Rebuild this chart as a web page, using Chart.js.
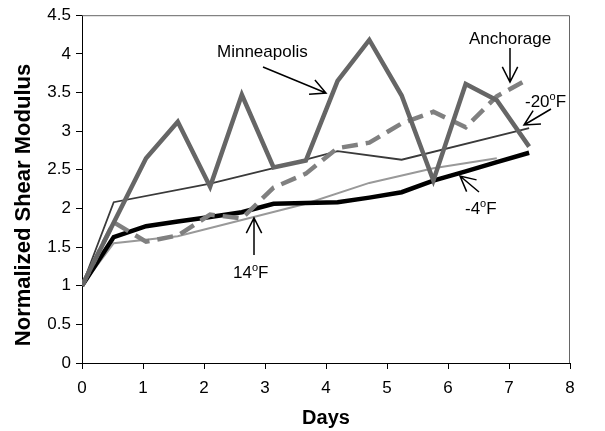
<!DOCTYPE html>
<html>
<head>
<meta charset="utf-8">
<script src="https://cdn.jsdelivr.net/npm/chart.js@4"></script>
<style>
  html, body { margin: 0; padding: 0; background: #fff; }
  #wrap { width: 605px; height: 431px; }
</style>
</head>
<body>
<div id="wrap"><canvas id="grafico" width="605" height="431"></canvas></div>
<script>
// Days at which each reading was taken
const dias = [0, 0.52, 1.05, 1.57, 2.1, 2.62, 3.14, 3.67, 4.19, 4.71, 5.24, 5.76, 6.29, 6.8, 7.33];

// Normalized shear modulus per series (null = no reading)
const minneapolis = [1, null, 2.65, 3.12, 2.28, 3.47, 2.53, 2.62, 3.65, 4.18, 3.46, 2.36, 3.61, 3.40, 2.80];
const anchorage   = [1, 1.82, 1.57, 1.65, 1.92, 1.87, 2.27, 2.45, 2.78, 2.85, 3.10, 3.25, 3.05, 3.45, 3.68];
const menos20F    = [1, 2.08, null, null, 2.32, null, 2.52, null, 2.74, null, 2.63, null, null, null, 3.04];
const menos4F     = [1, 1.63, 1.77, 1.83, 1.89, 1.95, 2.06, 2.07, 2.08, 2.14, 2.21, 2.36, 2.48, 2.60, 2.72];
const mas14F      = [1, 1.55, null, 1.64, null, 1.85, null, 2.06, null, 2.33, null, 2.52, null, 2.65, null];

const xTicks = { min: 0, max: 8, step: 1 };
const yTicks = { min: 0, max: 4.5, step: 0.5 };

const FUENTE = "'Liberation Sans', Arial, sans-serif";
Chart.defaults.font.family = FUENTE;
Chart.defaults.color = '#000';

function puntos(valores) {
  return dias.map((d, i) => ({ x: d, y: valores[i] }));
}

function serie(label, valores, color, ancho, extra) {
  return Object.assign({
    label: label,
    data: puntos(valores),
    borderColor: color,
    backgroundColor: color,
    borderWidth: ancho,
    pointRadius: 0,
    tension: 0,
    spanGaps: true,
    borderJoinStyle: 'miter',
    borderCapStyle: 'butt'
  }, extra || {});
}

function flecha(ctx, x1, y1, x2, y2) {
  const ang = Math.atan2(y2 - y1, x2 - x1);
  const largo = 17, abre = 0.47;
  ctx.beginPath();
  ctx.moveTo(x1, y1);
  ctx.lineTo(x2, y2);
  ctx.moveTo(x2 - largo * Math.cos(ang - abre), y2 - largo * Math.sin(ang - abre));
  ctx.lineTo(x2, y2);
  ctx.lineTo(x2 - largo * Math.cos(ang + abre), y2 - largo * Math.sin(ang + abre));
  ctx.stroke();
}

// text like "-20" + superscript "o" + "F"
function temp(ctx, num, x, y) {
  ctx.font = '17px ' + FUENTE;
  ctx.fillText(num, x, y);
  let w = ctx.measureText(num).width;
  ctx.font = '11px ' + FUENTE;
  ctx.fillText('o', x + w, y - 7);
  w += ctx.measureText('o').width;
  ctx.font = '17px ' + FUENTE;
  ctx.fillText('F', x + w, y);
}

const anotaciones = {
  id: 'anotaciones',
  afterDraw(chart) {
    const ctx = chart.ctx;
    const area = chart.chartArea;
    ctx.save();

    // plot area border (top and right)
    ctx.strokeStyle = '#666';
    ctx.lineWidth = 1;
    ctx.beginPath();
    ctx.moveTo(area.left, area.top + 0.5);
    ctx.lineTo(area.right - 0.5, area.top + 0.5);
    ctx.lineTo(area.right - 0.5, area.bottom);
    ctx.stroke();

    // y axis title
    ctx.fillStyle = '#000';
    ctx.font = 'bold 22px ' + FUENTE;
    ctx.textAlign = 'center';
    ctx.textBaseline = 'middle';
    ctx.translate(24, 205);
    ctx.rotate(-Math.PI / 2);
    ctx.fillText('Normalized Shear Modulus', 0, 0);
    ctx.setTransform(1, 0, 0, 1, 0, 0);

    ctx.textAlign = 'left';
    ctx.textBaseline = 'alphabetic';
    ctx.font = '17px ' + FUENTE;
    ctx.fillText('Minneapolis', 217, 57);
    ctx.fillText('Anchorage', 469, 44);
    temp(ctx, '-20', 525, 107);
    temp(ctx, '-4', 465, 214);
    temp(ctx, '14', 233, 278);

    ctx.strokeStyle = '#000';
    ctx.lineWidth = 1.5;
    flecha(ctx, 263, 67, 326, 93);
    flecha(ctx, 510, 48, 510, 82);
    flecha(ctx, 551, 109, 524, 125);
    flecha(ctx, 479, 192, 460, 176);
    flecha(ctx, 254, 255, 254, 218);
    ctx.restore();
  }
};

const ctx = document.getElementById('grafico').getContext('2d');
new Chart(ctx, {
  type: 'line',
  data: {
    datasets: [
      serie('Minneapolis', minneapolis, '#666666', 4.5),
      serie('Anchorage', anchorage, '#808080', 4.5, { borderDash: [16, 8] }),
      serie('-20F', menos20F, '#3a3a3a', 1.8),
      serie('-4F', menos4F, '#000000', 4.5),
      serie('14F', mas14F, '#999999', 2)
    ]
  },
  options: {
    responsive: false,
    animation: false,
    layout: { padding: { left: 0, right: 35, top: 10, bottom: 0 } },
    plugins: {
      legend: { display: false },
      tooltip: { enabled: false }
    },
    scales: {
      x: {
        type: 'linear',
        min: xTicks.min,
        max: xTicks.max,
        ticks: { stepSize: xTicks.step, font: { size: 17 }, padding: 9, color: '#000' },
        grid: { drawOnChartArea: false, tickLength: 6, tickColor: '#000', color: '#000' },
        border: { color: '#000', width: 1 },
        title: { display: true, text: 'Days', font: { size: 20, weight: 'bold' }, padding: { top: 0, bottom: 1 }, color: '#000' },
        afterFit: s => { s.height = 68; }
      },
      y: {
        min: yTicks.min,
        max: yTicks.max,
        ticks: { stepSize: yTicks.step, font: { size: 17 }, padding: 5, color: '#000', callback: v => String(v) },
        grid: { drawOnChartArea: false, tickLength: 6, tickColor: '#000', color: '#000' },
        border: { color: '#000', width: 1 },
        afterFit: s => { s.width = 82; }
      }
    }
  },
  plugins: [anotaciones]
});
</script>
</body>
</html>
